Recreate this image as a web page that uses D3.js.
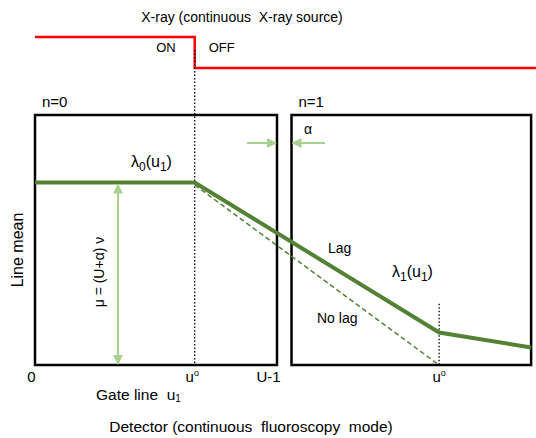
<!DOCTYPE html>
<html>
<head>
<meta charset="utf-8">
<script src="https://cdn.jsdelivr.net/npm/d3@7"></script>
<style>
  body { margin: 0; background: #fff; }
  svg text { font-family: "Liberation Sans", Arial, sans-serif; fill: #000; white-space: pre; }
</style>
</head>
<body>
<div id="chart"></div>
<script>
// data (schematic units: gate line index on x, line mean on y)
const frames = [
  { name: "n=0", x0: 0, x1: 10 },
  { name: "n=1", x0: 10.6, x1: 20.5 }
];
const uZero = [6.6, 16.7];
const xraySignal = [[0, 1], [6.6, 1], [6.6, 0], [20.7, 0]];
const lagLine = [[0, 7.3], [6.6, 7.3], [16.7, 1.3], [20.5, 0.7]];
const noLagLine = [[6.6, 7.2], [16.7, 0]];
const xTickLabels = [[-0.15, "0"], [6.5, "u"], [9.65, "U-1"], [16.7, "u"]];

const width = 536, height = 438;

const svg = d3.select("#chart").append("svg")
  .attr("width", width).attr("height", height);

// scales
const x = d3.scaleLinear().domain([0, 10]).range([35, 277]);
const y = d3.scaleLinear().domain([0, 10]).range([365, 115]);
const ySig = d3.scaleLinear().domain([0, 1]).range([68, 37]);

const dark = "#548235", light = "#a9d18e";

// arrow head
const defs = svg.append("defs");
defs.append("marker").attr("id", "lh")
  .attr("viewBox", "0 0 10 10").attr("refX", 9).attr("refY", 5)
  .attr("markerWidth", 5).attr("markerHeight", 5).attr("orient", "auto-start-reverse")
  .attr("markerUnits", "strokeWidth")
  .append("path").attr("d", "M0,0 L10,5 L0,10 Z").attr("fill", light);

// title
svg.append("text").attr("x", 242).attr("y", 22).attr("text-anchor", "middle")
  .style("font-size", "14px").text("X-ray (continuous  X-ray source)");

// x-ray signal
svg.append("path").datum(xraySignal)
  .attr("d", d3.line().x(d => x(d[0])).y(d => ySig(d[1])))
  .attr("fill", "none").attr("stroke", "#ff0000").attr("stroke-width", 2.5);

svg.append("text").attr("x", x(6.6) - 19).attr("y", 52).attr("text-anchor", "end")
  .style("font-size", "13px").text("ON");
svg.append("text").attr("x", x(6.6) + 14).attr("y", 52)
  .style("font-size", "13px").text("OFF");

// dotted u0 lines
svg.append("line")
  .attr("x1", x(uZero[0])).attr("x2", x(uZero[0]))
  .attr("y1", 50).attr("y2", y(0))
  .attr("stroke", "#000").attr("stroke-width", 1.3).attr("stroke-dasharray", "1.5,2");
svg.append("line")
  .attr("x1", x(uZero[1])).attr("x2", x(uZero[1]))
  .attr("y1", y(2.45)).attr("y2", y(0))
  .attr("stroke", "#000").attr("stroke-width", 1.3).attr("stroke-dasharray", "1.5,2");

// frames
svg.selectAll(".frame").data(frames).enter().append("rect")
  .attr("class", "frame")
  .attr("x", d => x(d.x0)).attr("y", y(10))
  .attr("width", d => x(d.x1) - x(d.x0)).attr("height", y(0) - y(10))
  .attr("fill", "none").attr("stroke", "#000").attr("stroke-width", 2.5);

svg.selectAll(".fname").data(frames).enter().append("text")
  .attr("class", "fname")
  .attr("x", d => x(d.x0) + 7).attr("y", 107)
  .style("font-size", "15px").text(d => d.name);

// lines
const line = d3.line().x(d => x(d[0])).y(d => y(d[1]));
svg.append("path").datum(noLagLine).attr("d", line)
  .attr("fill", "none").attr("stroke", dark).attr("stroke-width", 1.5)
  .attr("stroke-dasharray", "5,3");
svg.append("path").datum(lagLine).attr("d", line)
  .attr("fill", "none").attr("stroke", dark).attr("stroke-width", 4);

// mu arrow (double headed)
svg.append("line")
  .attr("x1", 118).attr("x2", 118)
  .attr("y1", y(7.3) + 2).attr("y2", y(0) - 1)
  .attr("stroke", light).attr("stroke-width", 2)
  .attr("marker-start", "url(#lh)").attr("marker-end", "url(#lh)");

// alpha arrows
svg.append("line").attr("x1", 247).attr("x2", x(10) - 1).attr("y1", 143).attr("y2", 143)
  .attr("stroke", light).attr("stroke-width", 2).attr("marker-end", "url(#lh)");
svg.append("line").attr("x1", 325).attr("x2", x(10.6) + 1).attr("y1", 143).attr("y2", 143)
  .attr("stroke", light).attr("stroke-width", 2).attr("marker-end", "url(#lh)");
svg.append("text").attr("x", 304).attr("y", 134).style("font-size", "14px").text("α");

// lambda labels
function lam(tx, ty, sub) {
  const t = svg.append("text").attr("x", tx).attr("y", ty).style("font-size", "16px");
  t.append("tspan").text("λ");
  t.append("tspan").attr("dy", 4).style("font-size", "12px").text(sub);
  t.append("tspan").attr("dy", -4).text("(u");
  t.append("tspan").attr("dy", 4).style("font-size", "12px").text("1");
  t.append("tspan").attr("dy", -4).text(")");
}
lam(131, 167, "0");
lam(392, 277, "1");

svg.append("text").attr("x", 328).attr("y", 253).style("font-size", "14px").text("Lag");
svg.append("text").attr("x", 317).attr("y", 323).style("font-size", "14px").text("No lag");

svg.append("text").attr("transform", "translate(104,272) rotate(-90)")
  .attr("text-anchor", "middle").style("font-size", "14px")
  .text("μ = (U+α) ν");

svg.append("text").attr("transform", "translate(23,250) rotate(-90)")
  .attr("text-anchor", "middle").style("font-size", "16px").text("Line mean");

// x tick labels
xTickLabels.forEach(([v, lab]) => {
  const t = svg.append("text").attr("x", x(v)).attr("y", 382)
    .attr("text-anchor", "middle").style("font-size", "15px");
  t.append("tspan").text(lab);
  if (lab === "u") t.append("tspan").attr("dy", -6).style("font-size", "9px").text("o");
});

const gl = svg.append("text").attr("x", 96).attr("y", 400).style("font-size", "15.5px");
gl.append("tspan").text("Gate line  u");
gl.append("tspan").attr("dy", 2).style("font-size", "10px").text("1");

svg.append("text").attr("x", 251).attr("y", 432).attr("text-anchor", "middle")
  .style("font-size", "15.5px").text("Detector (continuous  fluoroscopy  mode)");
</script>
</body>
</html>
